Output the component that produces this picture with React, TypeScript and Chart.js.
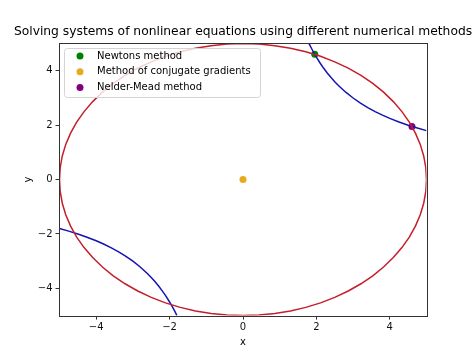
import { useEffect, useRef } from "react";
import { Chart, registerables } from "chart.js";

Chart.register(...registerables);

const TITLE = "Solving systems of nonlinear equations using different numerical methods";
const X_LABEL = "x";
const Y_LABEL = "y";
const TICKS = [-4, -2, 0, 2, 4];

// circle x^2 + y^2 = 25
const circleX = [
  5, 4.981, 4.924, 4.83, 4.698, 4.532, 4.33, 4.096, 3.83, 3.536, 3.214, 2.868, 2.5, 2.113, 1.71, 1.294, 0.868, 0.436, 0,
  -0.436, -0.868, -1.294, -1.71, -2.113, -2.5, -2.868, -3.214, -3.536, -3.83, -4.096, -4.33, -4.532, -4.698, -4.83, -4.924, -4.981, -5,
  -4.981, -4.924, -4.83, -4.698, -4.532, -4.33, -4.096, -3.83, -3.536, -3.214, -2.868, -2.5, -2.113, -1.71, -1.294, -0.868, -0.436, 0,
  0.436, 0.868, 1.294, 1.71, 2.113, 2.5, 2.868, 3.214, 3.536, 3.83, 4.096, 4.33, 4.532, 4.698, 4.83, 4.924, 4.981, 5,
];
const circleY = [
  0, 0.436, 0.868, 1.294, 1.71, 2.113, 2.5, 2.868, 3.214, 3.536, 3.83, 4.096, 4.33, 4.532, 4.698, 4.83, 4.924, 4.981, 5,
  4.981, 4.924, 4.83, 4.698, 4.532, 4.33, 4.096, 3.83, 3.536, 3.214, 2.868, 2.5, 2.113, 1.71, 1.294, 0.868, 0.436, 0,
  -0.436, -0.868, -1.294, -1.71, -2.113, -2.5, -2.868, -3.214, -3.536, -3.83, -4.096, -4.33, -4.532, -4.698, -4.83, -4.924, -4.981, -5,
  -4.981, -4.924, -4.83, -4.698, -4.532, -4.33, -4.096, -3.83, -3.536, -3.214, -2.868, -2.5, -2.113, -1.71, -1.294, -0.868, -0.436, 0,
];

// curve x*y = 9, upper and lower branches
const upperX = [1.8, 1.85, 1.9, 1.95, 2.0, 2.1, 2.2, 2.3, 2.4, 2.5, 2.6, 2.8, 3.0, 3.2, 3.4, 3.6, 3.8, 4.0, 4.25, 4.5, 4.75, 5.0];
const upperY = [5, 4.865, 4.737, 4.615, 4.5, 4.286, 4.091, 3.913, 3.75, 3.6, 3.462, 3.214, 3.0, 2.813, 2.647, 2.5, 2.368, 2.25, 2.118, 2.0, 1.895, 1.8];
const lowerX = [-1.8, -1.85, -1.9, -1.95, -2.0, -2.1, -2.2, -2.3, -2.4, -2.5, -2.6, -2.8, -3.0, -3.2, -3.4, -3.6, -3.8, -4.0, -4.25, -4.5, -4.75, -5.0];
const lowerY = [-5, -4.865, -4.737, -4.615, -4.5, -4.286, -4.091, -3.913, -3.75, -3.6, -3.462, -3.214, -3.0, -2.813, -2.647, -2.5, -2.368, -2.25, -2.118, -2.0, -1.895, -1.8];

// solutions found
const methodNames = ["Newtons method", "Method of conjugate gradients", "Nelder-Mead method"];
const methodX = [1.955, 0, 4.604];
const methodY = [4.604, 0, 1.955];
const methodColors = ["#008000", "#e8a820", "#800080"];

const FONT = "DejaVu Sans";

export default function App() {
  const ref = useRef<HTMLCanvasElement>(null);

  useEffect(() => {
    document.body.style.margin = "0";
    const toPts = (xs: number[], ys: number[]) => xs.map((x, i) => ({ x, y: ys[i] }));

    const decor = {
      id: "decor",
      afterDraw(chart: any) {
        const { ctx, chartArea } = chart;
        const { left, right, top, bottom } = chartArea;
        ctx.save();
        // frame
        ctx.strokeStyle = "#333";
        ctx.lineWidth = 1;
        ctx.strokeRect(Math.round(left) - 0.5, Math.round(top) - 0.5, Math.round(right - left) + 1, Math.round(bottom - top) + 1);
        // title
        ctx.fillStyle = "#000";
        ctx.font = `12.3px "${FONT}"`;
        ctx.textAlign = "center";
        ctx.textBaseline = "middle";
        ctx.fillText(TITLE, (left + right) / 2, 32);
        // axis labels
        ctx.font = `10px "${FONT}"`;
        ctx.fillText(X_LABEL, (left + right) / 2, 342);
        ctx.save();
        ctx.translate(28, (top + bottom) / 2);
        ctx.rotate(-Math.PI / 2);
        ctx.fillText(Y_LABEL, 0, 0);
        ctx.restore();
        // legend
        const lx = 64.5, ly = 48.5, lw = 196, lh = 49, r = 3;
        ctx.beginPath();
        ctx.moveTo(lx + r, ly);
        ctx.lineTo(lx + lw - r, ly);
        ctx.arcTo(lx + lw, ly, lx + lw, ly + r, r);
        ctx.lineTo(lx + lw, ly + lh - r);
        ctx.arcTo(lx + lw, ly + lh, lx + lw - r, ly + lh, r);
        ctx.lineTo(lx + r, ly + lh);
        ctx.arcTo(lx, ly + lh, lx, ly + lh - r, r);
        ctx.lineTo(lx, ly + r);
        ctx.arcTo(lx, ly, lx + r, ly, r);
        ctx.closePath();
        ctx.fillStyle = "rgba(255,255,255,0.8)";
        ctx.fill();
        ctx.strokeStyle = "#d4d4d4";
        ctx.stroke();
        ctx.textAlign = "left";
        ctx.font = `10px "${FONT}"`;
        methodNames.forEach((name, i) => {
          const cy = 56 + i * 15.8;
          ctx.beginPath();
          ctx.arc(80, cy, 3.5, 0, Math.PI * 2);
          ctx.fillStyle = methodColors[i];
          ctx.fill();
          ctx.fillStyle = "#000";
          ctx.fillText(name, 97, cy);
        });
        ctx.restore();
      },
    };

    const lineStyle = (color: string) => ({
      showLine: true,
      borderColor: color,
      borderWidth: 1.5,
      pointRadius: 0,
      tension: 0,
      order: 0,
    });

    const chart = new Chart(ref.current!, {
      type: "scatter",
      data: {
        datasets: [
          { label: "circle", data: toPts(circleX, circleY), ...lineStyle("#c41e2a") },
          { label: "upper", data: toPts(upperX, upperY), ...lineStyle("#1414b4") },
          { label: "lower", data: toPts(lowerX, lowerY), ...lineStyle("#1414b4") },
          ...methodNames.map((name, i) => ({
            label: name,
            data: [{ x: methodX[i], y: methodY[i] }],
            backgroundColor: methodColors[i],
            borderColor: methodColors[i],
            pointRadius: 3.5,
            pointBorderWidth: 0,
            order: 1,
          })),
        ],
      },
      options: {
        responsive: false,
        animation: false,
        devicePixelRatio: 1,
        layout: { padding: { left: 0, right: 47.5, top: 43.6, bottom: 0 } },
        plugins: {
          legend: { display: false },
          tooltip: { enabled: false },
          title: { display: false },
        },
        scales: {
          x: {
            type: "linear",
            min: -5,
            max: 5,
            afterBuildTicks: (s: any) => {
              s.ticks = TICKS.map((v) => ({ value: v }));
            },
            afterFit: (s: any) => {
              s.height = 39.4;
            },
            grid: { drawOnChartArea: false, drawTicks: true, tickLength: 4, color: "#333" },
            border: { display: false },
            ticks: {
              padding: 2,
              color: "#111",
              font: { family: FONT, size: 10 },
              maxRotation: 0,
              callback: (v: any) => String(v).replace("-", "\u2212"),
            },
          },
          y: {
            type: "linear",
            min: -5,
            max: 5,
            afterBuildTicks: (s: any) => {
              s.ticks = TICKS.map((v) => ({ value: v }));
            },
            afterFit: (s: any) => {
              s.width = 59.5;
            },
            grid: { drawOnChartArea: false, drawTicks: true, tickLength: 4, color: "#333" },
            border: { display: false },
            ticks: {
              padding: 3,
              color: "#111",
              font: { family: FONT, size: 10 },
              callback: (v: any) => String(v).replace("-", "\u2212"),
            },
          },
        },
      },
      plugins: [decor],
    } as any);
    return () => chart.destroy();
  }, []);

  return <canvas ref={ref} width={474} height={355} style={{ display: "block" }} />;
}
